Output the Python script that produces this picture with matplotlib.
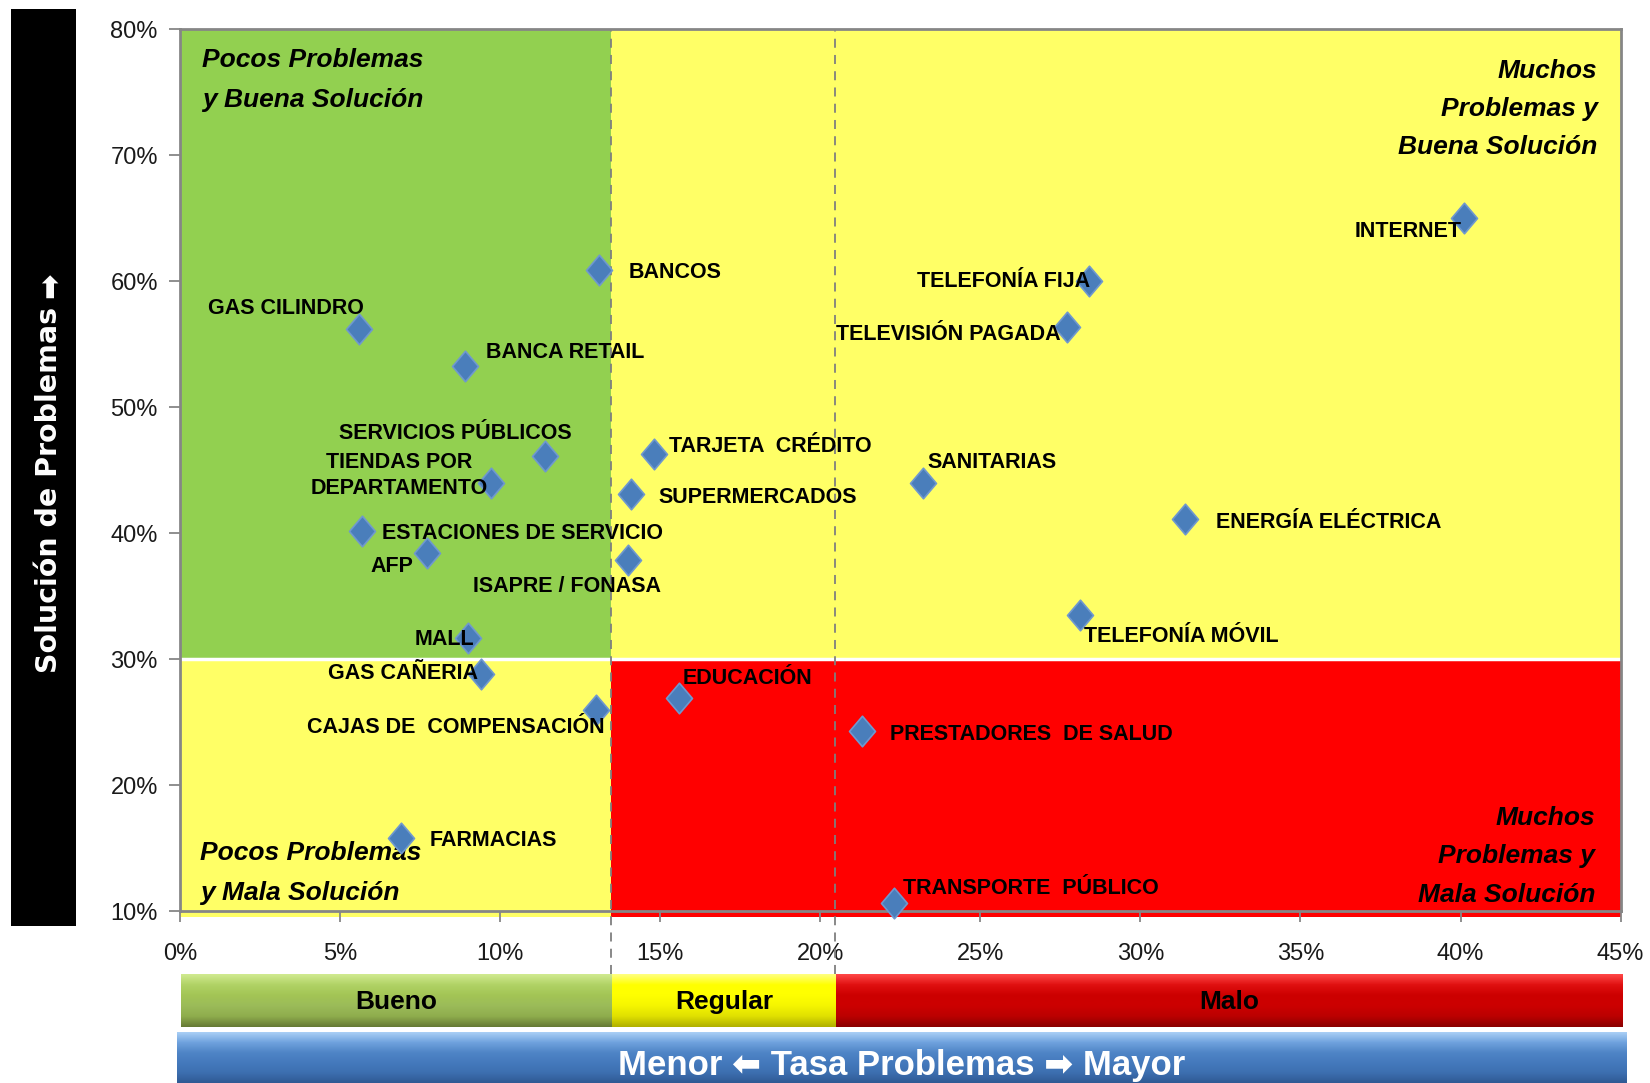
import numpy as np
import matplotlib
matplotlib.use("Agg")
import matplotlib.pyplot as plt
from matplotlib.patches import Rectangle
from matplotlib.colors import LinearSegmentedColormap
from matplotlib.path import Path

# ---------------- data ----------------
names = ["INTERNET", "TELEFONÍA FIJA", "TELEVISIÓN PAGADA", "BANCOS", "GAS CILINDRO",
         "BANCA RETAIL", "SERVICIOS PÚBLICOS", "TIENDAS POR\nDEPARTAMENTO", "TARJETA  CRÉDITO",
         "SUPERMERCADOS", "SANITARIAS", "ENERGÍA ELÉCTRICA", "ESTACIONES DE SERVICIO", "AFP",
         "ISAPRE / FONASA", "TELEFONÍA MÓVIL", "MALL", "GAS CAÑERIA", "CAJAS DE  COMPENSACIÓN",
         "EDUCACIÓN", "PRESTADORES  DE SALUD", "FARMACIAS", "TRANSPORTE  PÚBLICO"]
tasa_problemas = [40.1, 28.4, 27.7, 13.1, 5.6, 8.9, 11.4, 9.7, 14.8, 14.1, 23.2, 31.4, 5.7, 7.7,
                  14.0, 28.1, 9.0, 9.4, 13.0, 15.6, 21.3, 6.9, 22.3]
solucion = [65.0, 60.0, 56.4, 60.9, 56.2, 53.3, 46.1, 44.0, 46.3, 43.1, 44.0, 41.1, 40.2, 38.4,
            37.9, 33.5, 31.7, 28.8, 26.0, 26.9, 24.3, 15.8, 10.6]

x_ticks = [0, 5, 10, 15, 20, 25, 30, 35, 40, 45]
y_ticks = [10, 20, 30, 40, 50, 60, 70, 80]
cut_bueno = 13.45      # limit Bueno / Regular
cut_regular = 20.45    # limit Regular / Malo
cut_solucion = 30      # limit good / bad solution
categories = ["Bueno", "Regular", "Malo"]
quadrant_texts = ["Pocos Problemas\ny Buena Solución", "Muchos\nProblemas y\nBuena Solución",
                  "Pocos Problemas\ny Mala Solución", "Muchos\nProblemas y\nMala Solución"]

# label offsets (pixels) and alignment
label_offsets = [(-2, -13, "right"), (1, 0, "right"), (-6, -8, "right"), (29, -3, "left"),
                 (-73, 21, "center"), (21, 13, "left"), (27, 23, "right"), (-91, 7, "center"),
                 (15, 7, "left"), (27, -3, "left"), (5, 20, "left"), (31, -3, "left"),
                 (20, -3, "left"), (-13, -13, "right"), (33, -27, "right"), (4, -21, "left"),
                 (6, -2, "right"), (-3, 1, "right"), (8, -18, "right"), (3, 20, "left"),
                 (28, -4, "left"), (29, -3, "left"), (9, 15, "left")]

# ---------------- style ----------------
GREEN = "#92d050"
YELLOW = "#ffff66"
RED = "#ff0000"
GRID_GREY = "#868686"
WIDE = ["Liberation Sans", "DejaVu Sans"]

fig = plt.figure(figsize=(16.5, 10.83), dpi=100)
ax = fig.add_axes([0.1091, 0.1588, 0.8731, 0.814])
ax.set_xlim(0, 45)
ax.set_ylim(10, 80)

# quadrant fills
ax.add_patch(Rectangle((0, cut_solucion), cut_bueno, 80 - cut_solucion, fc=GREEN, ec="none", zorder=0))
ax.add_patch(Rectangle((cut_bueno, cut_solucion), 45 - cut_bueno, 80 - cut_solucion, fc=YELLOW, ec="none", zorder=0))
ax.add_patch(Rectangle((0, 9.5), cut_bueno, cut_solucion - 9.5, fc=YELLOW, ec="none", zorder=0, clip_on=False))
ax.add_patch(Rectangle((cut_bueno, 9.5), 45 - cut_bueno, cut_solucion - 9.5, fc=RED, ec="none", zorder=0, clip_on=False))
ax.axhline(cut_solucion, color="white", lw=2.5, zorder=1)

for xc in (cut_bueno, cut_regular):
    ax.plot([xc, xc], [5.0, 80], ls=(0, (5, 4)), color="#7f7f7f", lw=1.3, clip_on=False, zorder=2)

for s in ax.spines.values():
    s.set_color(GRID_GREY)
    s.set_linewidth(2)
    s.set_zorder(3)

ax.set_xticks(x_ticks)
ax.set_xticklabels([f"{v}%" for v in x_ticks])
ax.set_yticks(y_ticks)
ax.set_yticklabels([f"{v}%" for v in y_ticks])
ax.tick_params(axis="both", direction="out", length=8, width=1.3, color=GRID_GREY,
               labelsize=17, labelcolor="#1a1a1a")
ax.tick_params(axis="x", pad=15)
ax.tick_params(axis="y", pad=8)
for t in ax.get_xticklabels() + ax.get_yticklabels():
    t.set_family(WIDE)

# diamond marker
diamond = Path([(0, 1), (0.85, 0), (0, -1), (-0.85, 0), (0, 1)],
               [Path.MOVETO, Path.LINETO, Path.LINETO, Path.LINETO, Path.CLOSEPOLY])
ax.plot(tasa_problemas, solucion, ls="none", marker=diamond, markersize=22,
        mfc="#4a7ebb", mec="#6f98cf", mew=1.2, zorder=5, clip_on=False)

for name, x, y, (dx, dy, ha) in zip(names, tasa_problemas, solucion, label_offsets):
    ax.annotate(name, (x, y), xytext=(dx, dy), textcoords="offset pixels",
                ha=ha, va="center", fontsize=15.5, fontweight="bold", family=WIDE,
                color="black", zorder=6, multialignment="center", linespacing=1.3,
                annotation_clip=False)

# quadrant captions
qkw = dict(fontsize=19, fontweight="bold", fontstyle="italic", family=WIDE, color="black",
           va="center", zorder=4)
ax.text(0.69, 75.99, quadrant_texts[0], ha="left", linespacing=1.82, **qkw)
ax.text(44.28, 73.68, quadrant_texts[1], ha="right", multialignment="right", linespacing=1.75, **qkw)
ax.text(0.62, 13.0, quadrant_texts[2], ha="left", linespacing=1.82, **qkw)
ax.text(44.21, 14.34, quadrant_texts[3], ha="right", multialignment="right", linespacing=1.75, **qkw)

# y label black box
fig.patches.append(Rectangle((0.0064, 0.145), 0.0397, 0.847, transform=fig.transFigure,
                             fc="black", ec="none"))
fig.text(0.0300, 0.5472, "Solución de Problemas", rotation=90, ha="center", va="center",
         color="white", fontsize=20.5, fontweight="bold", family=["DejaVu Sans"])
fig.text(0.0305, 0.737, "➡", rotation=90, ha="center", va="center",
         color="white", fontsize=22, fontweight="bold", family=WIDE)

# category bar
def gradient_box(axis, x0, x1, y0, y1, colors):
    cmap = LinearSegmentedColormap.from_list("g", colors)
    grad = np.linspace(0, 1, 100).reshape(-1, 1)
    axis.imshow(grad, cmap=cmap, extent=(x0, x1, y0, y1), aspect="auto", origin="upper",
                interpolation="bilinear", zorder=1)

cax = fig.add_axes([0.1097, 0.0517, 0.8737, 0.0486])
cax.set_xlim(0, 45)
cax.set_ylim(0, 1)
cax.axis("off")
gradient_box(cax, 0, cut_bueno, 0, 1, ["#d0ea90", "#b0d265", "#a3c555", "#9bbb59", "#8fad4d", "#667a35"])
gradient_box(cax, cut_bueno, cut_regular, 0, 1, ["#ffff80", "#ffff00", "#ffff00", "#f5f500", "#e0e000", "#b0b000"])
gradient_box(cax, cut_regular, 45, 0, 1, ["#ff4848", "#e01010", "#cc0000", "#cc0000", "#bb0000", "#8a0000"])
for (x0, x1), lab in zip([(0, cut_bueno), (cut_bueno, cut_regular), (cut_regular, 45)], categories):
    cax.text((x0 + x1) / 2, 0.47, lab, ha="center", va="center", fontsize=19, fontweight="bold",
             family=WIDE, color="black", zorder=3)

bax = fig.add_axes([0.1071, 0.0, 0.8782, 0.047])
bax.set_xlim(0, 1)
bax.set_ylim(0, 1)
bax.axis("off")
gradient_box(bax, 0, 1, 0, 1, ["#a9cff5", "#6fa2de", "#4f85c6", "#4479bd", "#3d6fb0", "#2f5a94"])
bax.text(0.5, 0.34, "Menor ⬅ Tasa Problemas ➡ Mayor", ha="center", va="center", fontsize=25,
         fontweight="bold", family=WIDE, color="white", zorder=3)

fig.savefig("out.png", dpi=100)
